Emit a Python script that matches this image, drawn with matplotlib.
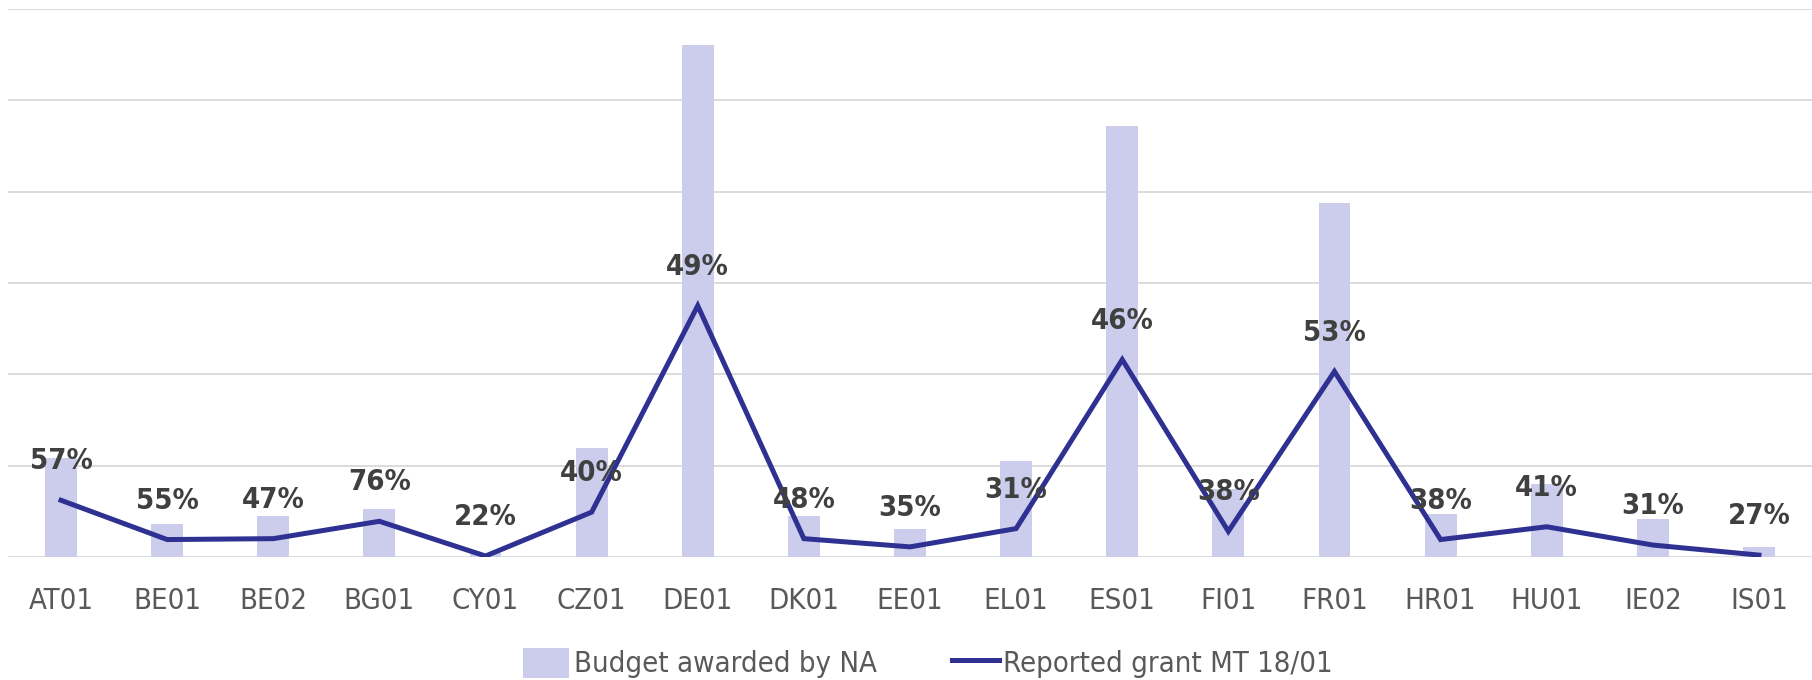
import matplotlib.pyplot as plt
import numpy as np

plt.rcParams['font.family'] = ['DejaVu Sans']
plt.rcParams['font.stretch'] = 'condensed'

codes = ['AT01', 'BE01', 'BE02', 'BG01', 'CY01', 'CZ01', 'DE01', 'DK01', 'EE01',
         'EL01', 'ES01', 'FI01', 'FR01', 'HR01', 'HU01', 'IE02', 'IS01']
budget = [1.08, 0.36, 0.45, 0.52, 0.04, 1.19, 5.60, 0.45, 0.31,
          1.05, 4.72, 0.74, 3.87, 0.47, 0.80, 0.41, 0.105]
reported = [0.62, 0.19, 0.20, 0.39, 0.01, 0.49, 2.75, 0.20, 0.11,
            0.31, 2.16, 0.28, 2.03, 0.19, 0.33, 0.13, 0.02]
pct_labels = ['57%', '55%', '47%', '76%', '22%', '40%', '49%', '48%', '35%',
              '31%', '46%', '38%', '53%', '38%', '41%', '31%', '27%']

bar_color = '#cccdec'
line_color = '#2e3192'

fig = plt.figure(figsize=(18.12, 6.8), dpi=100)
ax = fig.add_axes([0.0044, 0.181, 0.9956, 0.806])

x = np.arange(len(codes))
bars = ax.bar(x, budget, width=0.3, color=bar_color, zorder=2,
              label='Budget awarded by NA')
line, = ax.plot(x, reported, color=line_color, lw=3.6, zorder=3,
                solid_joinstyle='miter', label='Reported grant MT 18/01')

for xi, yi, s in zip(x, reported, pct_labels):
    ax.annotate(s, (xi, yi), xytext=(0, 28), textcoords='offset points',
                ha='center', va='center', fontsize=21, fontweight='bold',
                color='#404040', zorder=4)

ax.set_xlim(-0.5, len(codes) - 0.5)
ax.set_ylim(0, 6)
ax.set_yticks(np.arange(0, 7))
ax.set_yticklabels([])
ax.grid(axis='y', color='#d9d9d9', lw=1.3, zorder=0)
ax.tick_params(axis='y', length=0)
ax.tick_params(axis='x', length=0, pad=22, labelsize=21, labelcolor='#595959')
ax.set_xticks(x)
ax.set_xticklabels(codes)
for sp in ax.spines.values():
    sp.set_visible(False)

fig.legend([bars, line], ['Budget awarded by NA', 'Reported grant MT 18/01'],
           loc='center', bbox_to_anchor=(0.512, 0.025), ncol=2, frameon=False,
           fontsize=21, labelcolor='#595959', handlelength=1.6,
           handleheight=1.2, handletextpad=0.15, columnspacing=2.6)

fig.savefig('out.png', dpi=100)
